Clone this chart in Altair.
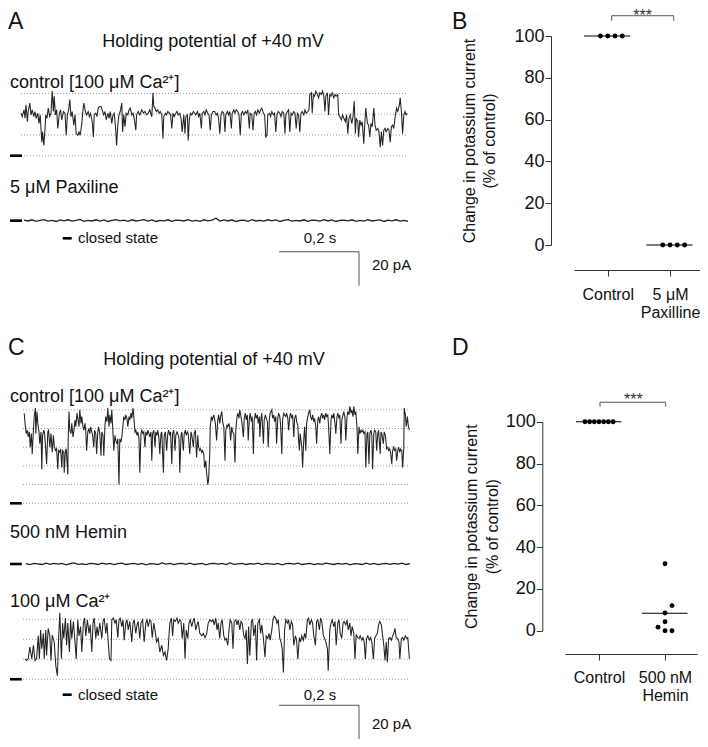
import altair as alt
import pandas as pd

# ---------------- DATA ----------------
# Panel A traces: [time ms, current pA]
a_control = [[0,25],[3,23],[7.5,27],[10,22],[12.5,30],[16,20],[18,26],[22,31],[25,24],[28,27],[32,23],[35,26],[38,22],[42,25],[45,19],[48,24],[52,8],[54,14],[57,6],[59,12],[62,24],[65,22],[68,28],[72,23],[75,25],[78,38],[81,26],[83,35],[86,24],[89,27],[92,16],[96,25],[99,27],[102,21],[106,26],[110,25],[113,12],[116,24],[119,27],[122,33],[125,23],[128,26],[132,18],[135,24],[138,13],[142,12],[145,14],[148,12],[152,19],[155,27],[157,31],[161,26],[164,24],[168,26],[171,23],[174,25],[178,20],[181,11],[183,24],[187,25],[190,23],[193,28],[197,29],[200,29],[203,27],[207,24],[210,26],[213,21],[217,25],[220,22],[223,26],[227,19],[230,24],[233,25],[237,15],[239,6],[242,18],[245,24],[248,26],[252,31],[254,14],[257,24],[260,17],[263,25],[267,24],[270,27],[273,28],[277,24],[280,25],[283,22],[287,15],[289,24],[293,26],[297,24],[302,27],[306,25],[310,26],[314,24],[318,25],[322,27],[327,23],[330,37],[332,29],[335,28],[338,26],[342,27],[345,25],[348,26],[352,24],[355,10],[357,23],[361,25],[364,24],[367,26],[371,25],[374,24],[377,16],[380,25],[383,23],[387,25],[390,26],[393,24],[397,25],[400,22],[403,14],[407,24],[410,13],[412,23],[416,24],[418,9],[421,22],[424,25],[427,24],[431,26],[434,25],[437,24],[441,26],[444,23],[447,25],[451,16],[453,25],[457,26],[460,24],[463,27],[467,25],[470,24],[473,15],[476,24],[480,26],[484,26],[488,24],[491,25],[494,22],[497,13],[500,24],[503,26],[507,25],[510,14],[512,24],[516,26],[519,24],[522,26],[526,16],[528,25],[532,27],[535,25],[538,27],[542,26],[545,24],[548,12],[551,25],[554,26],[557,24],[561,26],[564,25],[567,27],[571,16],[573,25],[577,24],[580,15],[583,25],[586,26],[589,24],[592,27],[596,25],[599,27],[602,28],[606,25],[609,24],[612,11],[615,12],[617,24],[621,25],[624,23],[627,26],[631,24],[634,25],[637,14],[640,24],[643,26],[647,25],[650,23],[653,26],[657,25],[660,13],[662,24],[666,26],[669,27],[672,14],[675,25],[678,24],[682,26],[685,25],[688,16],[691,25],[694,24],[697,14],[700,25],[703,26],[707,24],[710,27],[713,25],[717,26],[720,27],[722,36],[726,37],[728,25],[731,36],[734,35],[737,38],[741,36],[744,34],[747,37],[751,36],[754,38],[757,35],[760,26],[762,35],[766,37],[769,24],[772,36],[775,35],[778,37],[782,34],[785,36],[788,35],[792,36],[794,24],[797,23],[801,21],[804,24],[807,22],[811,20],[814,24],[817,13],[820,22],[823,24],[827,19],[830,23],[833,32],[836,13],[838,22],[842,20],[844,11],[847,21],[850,18],[853,20],[857,7],[859,17],[862,28],[866,19],[869,18],[872,11],[875,19],[878,17],[882,28],[885,18],[888,15],[892,16],[895,14],[898,5],[901,14],[904,6],[907,15],[910,16],[913,14],[917,16],[920,15],[923,8],[926,17],[929,18],[932,16],[936,24],[939,28],[942,26],[946,30],[948,34],[951,26],[954,13],[957,24],[960,26],[963,24],[966,25]]
# flat traces: pA every 10 ms starting at 7.5 ms
a_paxiline = [0.3,-0.2,0.5,-0.4,0.1,0.6,-0.3,0.2,-0.5,0.4,-0.1,0.5,-0.3,0.2,0.7,-0.4,0.1,-0.2,0.5,-0.3,0.4,-0.5,0.2,0.6,-0.1,0.3,-0.4,0.5,-0.2,0.1,0.6,-0.3,0.4,-0.5,0.2,-0.1,0.5,-0.4,0.3,0.1,-0.2,0.6,-0.3,0.2,-0.4,0.5,-0.1,0.3,1.4,-0.3,0.4,-0.2,0.5,-0.5,0.1,0.3,-0.4,0.6,-0.2,0.2,-0.3,0.5,-0.1,0.4,-0.5,0.2,0.6,-0.3,0.1,-0.2,0.5,-0.4,0.3,0.1,-0.3,0.6,-0.2,0.4,-0.5,0.2,0.3,-0.1,0.5,-0.4,0.2,-0.3,0.6,-0.2,0.1,0.4,-0.5,0.3,-0.1,0.5,-0.3,0.2,-0.4]
a_levels = [0, 12.2, 24.4, 36.6]

# Panel C traces
c_control = [[3,52.9],[6,45],[8,41],[11,43],[13,39],[16,42],[18,33],[21,41],[23,29],[26,43],[28,51],[31,56],[32,41],[35,54],[37,47],[40,42],[42,35],[45,42],[47,20],[49,40],[52,43],[54,41],[57,31],[59,23],[62,42],[64,43],[67,33],[70,41],[73,30],[76,40],[78,34],[81,31],[84,32],[87,20],[89,31],[92,30],[94,32],[97,21],[99,31],[102,30],[103,18],[106,31],[108,32],[112,17],[113,38],[115,54],[117,43],[120,41],[122,47],[125,39],[127,42],[130,49],[132,45],[135,53],[137,50],[140,45],[142,55],[145,47],[147,51],[150,45],[152,43],[155,47],[157,42],[159,31],[162,42],[164,44],[167,41],[169,45],[172,42],[174,40],[177,33],[179,43],[182,41],[184,29],[187,42],[189,45],[192,41],[195,28],[197,42],[200,40],[202,28],[205,46],[207,51],[210,48],[212,56],[215,45],[217,52],[220,47],[222,55],[225,41],[227,31],[230,40],[232,37],[235,35],[237,38],[240,11],[242,38],[245,36],[247,39],[250,46],[252,51],[255,49],[257,52],[260,50],[262,45],[265,51],[267,49],[270,53],[272,50],[275,56],[277,51],[280,42],[282,43],[285,40],[287,42],[290,38],[292,18],[295,41],[297,43],[300,41],[302,42],[305,33],[307,42],[310,40],[312,43],[315,41],[317,39],[320,42],[322,25],[324,41],[327,43],[330,33],[332,42],[335,40],[337,43],[340,38],[342,29],[345,41],[347,42],[351,18],[353,40],[356,42],[359,31],[362,41],[364,43],[367,40],[369,42],[372,23],[374,41],[377,43],[380,31],[382,40],[385,42],[387,41],[390,38],[392,18],[395,40],[397,42],[401,31],[403,41],[406,43],[408,40],[411,42],[413,41],[417,29],[420,42],[422,40],[426,33],[428,41],[431,43],[434,27],[437,40],[439,33],[442,31],[444,32],[447,30],[449,31],[452,29],[454,21],[457,25],[459,18],[462,11],[464,14],[467,30],[468,45],[471,51],[473,49],[477,52],[481,47],[484,37],[487,49],[489,52],[492,47],[494,51],[497,54],[499,48],[502,45],[505,25],[507,43],[510,46],[512,45],[515,47],[517,44],[519,37],[522,45],[524,42],[527,41],[530,24],[532,43],[535,51],[537,53],[540,50],[542,55],[545,51],[547,48],[551,39],[553,50],[556,53],[558,49],[561,52],[563,37],[566,50],[568,53],[571,48],[573,51],[576,29],[578,49],[581,53],[583,50],[586,52],[588,47],[591,51],[592,39],[595,50],[597,53],[601,35],[603,49],[606,52],[608,50],[611,48],[613,33],[616,50],[618,53],[622,55],[624,50],[627,52],[629,48],[632,51],[634,35],[637,50],[639,53],[642,51],[644,46],[647,29],[649,49],[652,53],[654,52],[657,51],[659,53],[662,50],[664,43],[667,51],[669,53],[672,50],[674,52],[677,39],[679,50],[682,52],[684,48],[687,46],[689,37],[691,31],[693,41],[697,33],[699,21],[702,38],[704,45],[707,31],[709,47],[712,51],[714,53],[717,55],[719,51],[722,49],[724,52],[727,48],[729,50],[732,45],[734,35],[737,49],[739,51],[742,47],[744,51],[747,53],[749,50],[752,52],[754,49],[757,53],[759,51],[762,52],[764,45],[767,29],[770,49],[772,52],[775,50],[777,53],[780,47],[782,41],[785,51],[787,53],[790,50],[792,52],[795,35],[797,49],[800,52],[802,54],[805,50],[807,37],[810,51],[812,54],[815,52],[817,57],[820,53],[822,55],[825,51],[827,57],[830,52],[832,54],[835,45],[837,29],[840,45],[842,41],[845,43],[847,42],[850,43],[852,41],[855,42],[857,21],[860,41],[862,42],[865,23],[867,41],[870,43],[872,40],[874,20],[877,41],[879,43],[882,42],[884,31],[887,41],[889,43],[893,29],[895,42],[897,41],[901,35],[903,42],[906,40],[909,32],[912,33],[914,31],[917,32],[919,30],[922,23],[924,31],[927,33],[929,31],[932,32],[934,25],[937,31],[939,33],[942,30],[944,32],[947,31],[949,21],[952,33],[953,56],[956,52],[958,45],[961,51],[963,46],[966,43]]
c_hemin = [0.2,-0.4,0.3,0.1,-0.3,0.5,-0.2,0.4,-0.1,0.3,-0.5,0.2,0.6,-0.2,0.1,-0.4,0.4,0.2,-0.3,0.5,-0.1,0.3,-0.4,0.2,0.5,-0.3,0.1,0.4,-0.2,0.3,-0.5,0.2,0.1,-0.3,0.6,-0.1,0.3,-0.4,0.2,0.4,-0.2,0.5,-0.3,0.1,0.3,-0.5,0.2,0.4,-0.1,0.3,-0.4,0.6,-0.2,0.1,0.4,-0.3,0.2,-0.1,0.5,-0.4,0.3,0.1,-0.2,0.4,-0.5,0.2,0.3,-0.1,0.5,-0.3,0.1,0.4,-0.4,0.2,-0.2,0.5,0.1,-0.3,0.3,-0.1,0.4,-0.5,0.2,0.1,-0.3,0.5,-0.2,0.3,-0.4,0.1,0.4,-0.2,0.3,-0.1,0.5,-0.3,0.2]
c_calcium = [[5,12],[9,11],[13,12],[17,19],[22,12],[26,20],[30,11],[34,12],[38,25.5],[41,12],[44,29],[47,18],[51,27],[53,12],[57,29],[59,14],[63,30],[67,25.5],[70,11],[73,26],[78,22],[82,8],[86,2],[89,24],[92,39],[96,12],[99,33],[102,24],[106,36],[109,20],[112,33],[116,16],[119,35],[122,24],[126,34],[130,22],[133,12],[137,35],[140,25.5],[144,31],[147,16],[151,33],[154,36],[157,25.5],[161,35],[165,27],[168,32],[172,16],[175,33],[178,36],[182,24],[185,31],[188,25.5],[192,33],[197,24],[200,34],[203,36],[207,27],[210,33],[213,22],[216,12],[220,11],[222,35],[226,36],[230,33],[233,35],[237,24.5],[240,35],[243,36],[247,31],[250,35],[253,23],[257,33],[260,35],[263,29],[267,34],[272,22],[275,33],[278,35],[282,27],[285,32],[288,34],[292,24],[295,33],[299,35],[303,22],[307,33],[310,35],[313,31],[317,35],[320,34],[323,24.5],[327,33],[330,29],[334,22],[338,24],[342,16],[347,20],[351,14],[355,16],[359,11],[363,18],[367,33],[371,36],[374,25.5],[377,35],[381,34],[385,36],[388,33],[392,35],[395,34],[398,24],[402,33],[405,12],[408,29],[412,24],[415,33],[418,35],[422,31],[425,34],[428,36],[432,29],[435,32],[438,34],[442,27],[447,25.5],[451,27],[455,24.5],[459,26.5],[463,33],[467,35],[472,34],[475,35],[478,32],[482,36],[485,29],[488,33],[492,24],[495,33],[498,35],[502,25.5],[505,23],[508,24],[512,20],[515,29],[518,35],[522,33],[525,18],[528,34],[532,35],[535,32],[538,35],[542,29],[545,34],[548,33],[552,25.5],[555,24],[558,29],[561,9],[564,31],[567,14],[571,34],[574,35],[577,25.5],[581,32],[584,11],[587,33],[591,35],[594,27],[597,32],[601,24],[605,13],[608,25.5],[612,24],[615,27],[618,23],[622,29],[625,35],[628,37],[632,36],[635,33],[638,35],[642,24],[645,22],[648,18],[651,4],[654,29],[657,35],[661,33],[664,35],[667,29],[671,34],[674,32],[677,20],[681,25.5],[684,23],[687,12],[691,24.5],[694,22],[697,25.5],[701,23],[704,27],[707,24],[711,35],[714,36],[717,32],[721,35],[724,33],[727,25.5],[731,20],[734,34],[737,35],[741,29],[744,36],[747,34],[751,25.5],[754,24],[757,22],[761,18],[763,5],[767,29],[770,33],[773,35],[777,31],[780,34],[783,20],[787,33],[790,35],[793,27],[797,24],[800,33],[803,34],[807,32],[810,35],[813,29],[817,33],[820,25.5],[823,31],[827,27],[830,12],[833,26.5],[837,24.5],[840,24],[843,25.5],[847,23],[850,24.5],[853,22],[856,12],[859,24],[862,25.5],[866,23],[869,24.5],[872,22],[876,12],[879,24],[882,25.5],[886,27],[889,32],[892,34],[896,32],[899,25.5],[902,20],[905,11],[908,22],[911,10],[914,24],[917,24.5],[921,23],[924,25.5],[927,27],[930,30],[933,24.5],[936,24],[940,22],[942,12],[946,24],[949,24.5],[952,23],[956,25.5],[959,24],[962,24.5],[966,12]]
c_control_levels = [0, 11, 22, 33, 44, 55]
c_calcium_levels = [0, 11.8, 23.5, 35.3]

# Panels B and D (% of control)
b_categories = ["Control", "5 μM Paxilline"]
b_control = [100, 100, 100, 100]
b_paxilline = [0, 0, 0, 0]
d_categories = ["Control", "500 nM Hemin"]
d_control = [100, 100, 100, 100, 100, 100, 100]
d_hemin = [32, 12, 8.5, 4.3, 1.7, 0, 0]

# ---------------- LAYOUT ----------------
FONT = "Liberation Sans"
W, H = 692, 731
PX_PER_PA = 1.7
TRACE_COLOR = "#222222"

A_ZERO = 147.7
A_X = alt.Scale(domain=[0, 967.5], range=[13, 400], nice=False, zero=False)
A_Y = alt.Scale(domain=[-80, 90], range=[A_ZERO + 80 * PX_PER_PA, A_ZERO - 90 * PX_PER_PA], nice=False, zero=False)
A_PAX_OFF = -38.2

C_ZERO = 495.3
C_X = alt.Scale(domain=[0, 967.5], range=[15, 402], nice=False, zero=False)
C_Y = alt.Scale(domain=[-150, 70], range=[C_ZERO + 150 * PX_PER_PA, C_ZERO - 70 * PX_PER_PA], nice=False, zero=False)
C_HEM_OFF = -35.7
C_CA_OFF = -103.5

NOAX = None


def pairs_df(pairs, offset, name):
    return pd.DataFrame({"t": [p[0] for p in pairs], "i": [p[1] + offset for p in pairs], "trace": name})


def flat_df(vals, offset, name):
    return pd.DataFrame({"t": [7.5 + 10 * k for k in range(len(vals))], "i": [v + offset for v in vals], "trace": name})


def label(text, x, y, size, align="left", color="#111", baseline="alphabetic"):
    return alt.Chart(pd.DataFrame({"s": [text]})).mark_text(
        align=align, baseline=baseline, fontSize=size, color=color, font=FONT
    ).encode(text="s:N", x=alt.value(x), y=alt.value(y))


def trace_panel(xs, ys, trace_frames, flat_frames, level_sets, closed_offsets, closed_x, bar_y, bar_t):
    traces = pd.concat(trace_frames, ignore_index=True)
    flats = pd.concat(flat_frames, ignore_index=True)
    lv = pd.DataFrame([{"x0": 0, "x1": 967.5, "y": l + off} for levels, off in level_sets for l in levels])
    closed = pd.DataFrame({"x0": [closed_x[0]] * len(closed_offsets), "x1": [closed_x[1]] * len(closed_offsets), "y": closed_offsets})
    bar = pd.DataFrame({"x0": [bar_t, bar_t + 200], "x1": [bar_t + 200, bar_t + 200],
                        "y0": [bar_y, bar_y], "y1": [bar_y, bar_y - 20]})
    levels_layer = alt.Chart(lv).mark_rule(color="#9a9a9a", strokeDash=[1, 2], strokeWidth=1).encode(
        x=alt.X("x0:Q", scale=xs, axis=NOAX), x2="x1:Q", y=alt.Y("y:Q", scale=ys, axis=NOAX))
    closed_layer = alt.Chart(closed).mark_rule(color="#000", strokeWidth=2.6).encode(
        x=alt.X("x0:Q", scale=xs, axis=NOAX), x2="x1:Q", y=alt.Y("y:Q", scale=ys, axis=NOAX))
    trace_layer = alt.Chart(traces).mark_line(color=TRACE_COLOR, strokeWidth=1.05).encode(
        x=alt.X("t:Q", scale=xs, axis=NOAX), y=alt.Y("i:Q", scale=ys, axis=NOAX), detail="trace:N", order="t:Q")
    flat_layer = alt.Chart(flats).mark_line(color=TRACE_COLOR, strokeWidth=1.3).encode(
        x=alt.X("t:Q", scale=xs, axis=NOAX), y=alt.Y("i:Q", scale=ys, axis=NOAX), detail="trace:N", order="t:Q")
    bar_layer = alt.Chart(bar).mark_rule(color="#555", strokeWidth=1).encode(
        x=alt.X("x0:Q", scale=xs, axis=NOAX), x2="x1:Q", y=alt.Y("y0:Q", scale=ys, axis=NOAX), y2="y1:Q")
    return [levels_layer, closed_layer, trace_layer, flat_layer, bar_layer]


def swarm(values, center, step, thr):
    placed, out = [], []
    for v in sorted(values):
        for k in [0, 1, -1, 2, -2, 3, -3, 4, -4]:
            if all(not (s == k and abs(pv - v) < thr) for s, pv in placed):
                placed.append((k, v))
                out.append({"x": center + k * step, "y": v})
                break
    return out


def dot_panel(groups, steps, xs, ys, y_off, x_off, label_expr, title_pad, lab_pad, line_ext, bracket, stars_xy):
    pts = []
    means = []
    for gi, (vals, step) in enumerate(zip(groups, steps)):
        pts += swarm(vals, gi, step, 3.83)
        m = sum(vals) / len(vals)
        means.append({"x0": gi + line_ext[0], "x1": gi + line_ext[1], "y": m})
    pts = pd.DataFrame(pts)
    means = pd.DataFrame(means)
    bx0, bx1, by, btip = bracket
    br = pd.DataFrame({"x0": [bx0, bx0, bx1], "x1": [bx1, bx0, bx1], "y0": [by, by, by], "y1": [by, btip, btip]})
    yaxis = alt.Axis(orient="left", offset=y_off, values=[0, 20, 40, 60, 80, 100], format="d",
                     tickSize=6, labelPadding=1, labelFontSize=18, labelColor="#111",
                     domainColor="#333", tickColor="#333", grid=False,
                     title=["Change in potassium current", "(% of control)"], titleFontSize=16,
                     titleFontWeight="normal", titleColor="#111", titlePadding=title_pad, titleLineHeight=20.5)
    xaxis = alt.Axis(orient="bottom", offset=x_off, values=[0, 1], tickSize=6, labelPadding=lab_pad,
                     labelFontSize=16, labelColor="#111", labelExpr=label_expr, labelFlush=False,
                     labelLineHeight=18.5, domainColor="#333", tickColor="#333", grid=False, title=None)
    dots = alt.Chart(pts).mark_circle(size=24, color="#000", opacity=1).encode(
        x=alt.X("x:Q", scale=xs, axis=xaxis), y=alt.Y("y:Q", scale=ys, axis=yaxis))
    lines = alt.Chart(means).mark_rule(color="#000", strokeWidth=1.1).encode(
        x=alt.X("x0:Q", scale=xs), x2="x1:Q", y=alt.Y("y:Q", scale=ys))
    brl = alt.Chart(br).mark_rule(color="#555", strokeWidth=1).encode(
        x=alt.X("x0:Q", scale=xs), x2="x1:Q", y=alt.Y("y0:Q", scale=ys), y2="y1:Q")
    stars = alt.Chart(pd.DataFrame({"x": [stars_xy[0]], "y": [stars_xy[1]], "s": ["***"]})).mark_text(
        fontSize=16, color="#333", baseline="alphabetic", align="center", font=FONT).encode(
        x=alt.X("x:Q", scale=xs), y=alt.Y("y:Q", scale=ys), text="s:N")
    return alt.layer(dots, lines, brl, stars)


# ---- Panel A ----
a_layers = trace_panel(
    A_X, A_Y,
    [pairs_df(a_control, 0, "control")], [flat_df(a_paxiline, A_PAX_OFF, "pax")],
    [(a_levels, 0)], [0, A_PAX_OFF], (-27.5, 2.5), -56.5, 645)
panelA = alt.layer(
    *a_layers,
    label("A", 0, 3, 23, baseline="top"),
    label("Holding potential of +40 mV", 205, 38.7, 18, align="center"),
    label("control [100 μM Ca²⁺]", 2, 80.3, 18),
    label("5 μM Paxiline", 2, 185.3, 18),
    alt.Chart(pd.DataFrame({"k": [0]})).mark_rule(color="#000", strokeWidth=2.6).encode(
        x=alt.value(54.7), x2=alt.value(63.7), y=alt.value(230.3)),
    label("closed state", 70, 234.7, 15),
    label("0,2 s", 312, 234.7, 15, align="center"),
    label("20 pA", 364, 262, 15),
)

# ---- Panel C ----
c_layers = trace_panel(
    C_X, C_Y,
    [pairs_df(c_control, 0, "control"), pairs_df(c_calcium, C_CA_OFF, "calcium")],
    [flat_df(c_hemin, C_HEM_OFF, "hemin")],
    [(c_control_levels, 0), (c_calcium_levels, C_CA_OFF)], [0, C_HEM_OFF, C_CA_OFF], (-32.5, -3), -118.8, 640)
panelC = alt.layer(
    *c_layers,
    label("C", 0, 347, 23),
    label("Holding potential of +40 mV", 206, 357, 18, align="center"),
    label("control [100 μM Ca²⁺]", 2, 393.7, 18),
    label("500 nM Hemin", 2, 530, 18),
    label("100 μM Ca²⁺", 2, 598.7, 18),
    alt.Chart(pd.DataFrame({"k": [0]})).mark_rule(color="#000", strokeWidth=2.6).encode(
        x=alt.value(54.7), x2=alt.value(63.7), y=alt.value(686.7)),
    label("closed state", 70, 691.7, 15),
    label("0,2 s", 312, 691.7, 15, align="center"),
    label("20 pA", 364, 721, 15),
)

# ---- Panel B ----
B_X = alt.Scale(domain=[-0.541, 1.481], range=[566, 692], nice=False, zero=False)
B_Y = alt.Scale(domain=[0, 100], range=[237, 28], nice=False, zero=False)
panelB = alt.layer(
    dot_panel([b_control, b_paxilline], [0.117, 0.117], B_X, B_Y, -543, -469,
              "datum.value == 0 ? 'Control' : ['5 μM', 'Paxilline']", 16, 10, (-0.38, 0.36),
              (0.064, 1.059, 109.7, 107.3), (0.56, 107.4)),
    label("B", 444, 3, 23, baseline="top"),
)

# ---- Panel D ----
D_X = alt.Scale(domain=[-0.515, 1.489], range=[557, 689.3], nice=False, zero=False)
D_Y = alt.Scale(domain=[0, 100], range=[622.7, 413.7], nice=False, zero=False)
panelD = alt.layer(
    dot_panel([d_control, d_hemin], [0.071, 0.106], D_X, D_Y, -534.3, -85,
              "datum.value == 0 ? 'Control' : ['500 nM', 'Hemin']", 5, 9, (-0.35, 0.34),
              (0.015, 1.01, 109.3, 107.2), (0.52, 108.1)),
    label("D", 444, 347, 23),
)

chart = alt.layer(panelA, panelB, panelC, panelD).resolve_scale(
    x="independent", y="independent"
).properties(
    width=W, height=H, padding=0, autosize=alt.AutoSizeParams(type="none")
).configure(font=FONT).configure_view(stroke=None)

chart.save("out.html", embed_options={"renderer": "svg", "actions": False})
